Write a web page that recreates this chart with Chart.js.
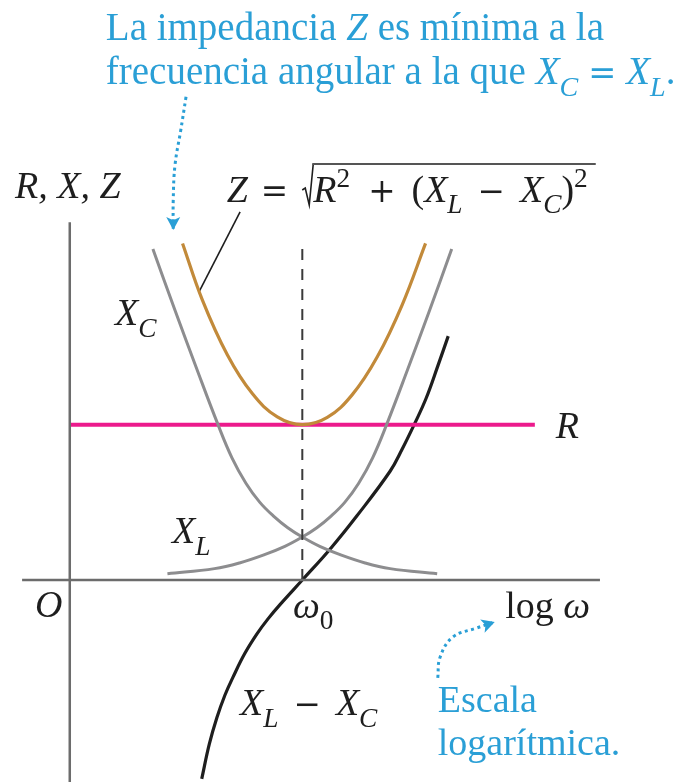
<!DOCTYPE html>
<html>
<head>
<meta charset="utf-8">
<script src="https://cdn.jsdelivr.net/npm/chart.js@4.4.1/dist/chart.umd.min.js"></script>
<style>
  html, body { margin: 0; padding: 0; background: #fff; }
  #wrap { width: 686px; height: 782px; }
</style>
</head>
<body>
<div id="wrap"><canvas id="chart"></canvas></div>
<script>
// eje horizontal: log ω (unidades arbitrarias), ω0 en 4; eje vertical: R, X, Z con R = 3
const omega0 = 4;
const resistance = 3;

// X_C (capacitiva)
const xcLogW = [1.43, 1.81, 2.19, 2.55, 2.79, 3.03, 3.27, 3.51, 3.75, 4.00, 4.30, 4.65, 5.08, 5.51, 6.32];
const xcVals = [6.39, 5.21, 4.06, 3.00, 2.36, 1.87, 1.50, 1.23, 1.01, 0.83, 0.65, 0.49, 0.33, 0.22, 0.12];
// X_L (inductiva)
const xlLogW = [1.68, 2.49, 2.92, 3.35, 3.70, 4.00, 4.25, 4.49, 4.73, 4.97, 5.21, 5.45, 5.81, 6.19, 6.57];
const xlVals = [0.12, 0.22, 0.33, 0.49, 0.65, 0.83, 1.01, 1.23, 1.50, 1.87, 2.36, 3.00, 4.06, 5.21, 6.39];
// Z = sqrt(R^2 + (XL - XC)^2)
const zLogW = [1.94, 2.28, 2.71, 3.14, 3.57, 4.00, 4.43, 4.86, 5.29, 5.72, 6.12];
const zVals = [6.50, 5.41, 4.35, 3.60, 3.15, 3.00, 3.14, 3.58, 4.31, 5.32, 6.50];
// XL - XC
const diffLogW = [2.27, 2.40, 2.53, 2.67, 2.81, 3.01, 3.22, 3.41, 3.62, 4.00, 4.48, 4.94, 5.51, 5.71, 5.92, 6.13, 6.33, 6.51];
const diffVals = [-3.84, -3.17, -2.66, -2.22, -1.87, -1.42, -1.04, -0.75, -0.47, 0.00, 0.60, 1.24, 2.10, 2.51, 2.99, 3.51, 4.13, 4.71];
// recta R y guia en ω0
const rLogW = [0, 8];
const omega0Top = 6.43;

// ejes
const xAxisSpan = [-0.82, 9.12];
const yAxisSpan = [-3.9, 6.91];

// flechas punteadas de las notas
const noteArrowTop = { x: [2.0, 1.91, 1.81, 1.78, 1.78], y: [9.33, 8.69, 8.01, 7.34, 6.76] };
const noteArrowLog = { x: [6.33, 6.37, 6.59, 6.99, 7.31], y: [-1.89, -1.49, -1.10, -0.93, -0.81] };
// linea de llamada de la formula de Z
const leaderX = [2.93, 2.23];
const leaderY = [7.11, 5.58];

const blue = '#2a9fd6';
const ink = '#1e1e1e';

const pts = (xs, ys) => xs.map((x, i) => ({ x, y: ys[i] }));
const line = (xs, ys, color, width, extra) => Object.assign({
  data: pts(xs, ys),
  showLine: true,
  borderColor: color,
  backgroundColor: color,
  borderWidth: width,
  pointRadius: 0,
  fill: false,
}, extra || {});

const smooth = { tension: 0.4 };

const datasets = [
  line([0, 0], yAxisSpan, '#6c6c6c', 2.5),
  line(xAxisSpan, [0, 0], '#6c6c6c', 2.5),
  line([omega0, omega0], [0, omega0Top], '#3a3a3a', 2, { borderDash: [11, 9] }),
  line(xcLogW, xcVals, '#8d8d8f', 3, smooth),
  line(xlLogW, xlVals, '#8d8d8f', 3, smooth),
  line(zLogW, zVals, '#c28a3a', 3.2, smooth),
  line(rLogW, [resistance, resistance], '#ec1a8c', 4),
  line(diffLogW, diffVals, ink, 3.2, smooth),
  line(leaderX, leaderY, ink, 1.6),
  line(noteArrowTop.x, noteArrowTop.y, blue, 3, { borderDash: [3, 3.5], tension: 0.4, arrow: true }),
  line(noteArrowLog.x, noteArrowLog.y, blue, 3, { borderDash: [3, 3.5], tension: 0.4, arrow: true }),
];

// punta de flecha al final de los datasets marcados con arrow
const arrowHeads = {
  id: 'arrowHeads',
  afterDatasetsDraw(chart) {
    const ctx = chart.ctx;
    chart.data.datasets.forEach((ds, i) => {
      if (!ds.arrow) return;
      const els = chart.getDatasetMeta(i).data;
      const a = els[els.length - 2], b = els[els.length - 1];
      const ang = Math.atan2(b.y - a.y, b.x - a.x);
      const len = 13, half = 7;
      ctx.save();
      ctx.translate(b.x, b.y);
      ctx.rotate(ang);
      ctx.beginPath();
      ctx.moveTo(0, 0);
      ctx.lineTo(-len, -half);
      ctx.lineTo(-len * 0.75, 0);
      ctx.lineTo(-len, half);
      ctx.closePath();
      ctx.fillStyle = ds.borderColor;
      ctx.fill();
      ctx.restore();
    });
  }
};

// texto con subindices / superindices
const SERIF = '"Liberation Serif", "Times New Roman", serif';
const OPS = '"DejaVu Serif", serif';
function drawRich(ctx, parts, x, y, size, color) {
  let cx = x;
  ctx.fillStyle = color;
  ctx.textBaseline = 'alphabetic';
  ctx.textAlign = 'left';
  parts.forEach(p => {
    if (typeof p === 'string') p = { t: p };
    const fs = p.s ? size * 0.72 : (p.op ? size * 0.86 : size);
    ctx.font = `${p.i ? 'italic ' : ''}${fs}px ${p.op ? OPS : SERIF}`;
    const dy = p.s === 'sub' ? size * 0.3 : p.s === 'sup' ? -size * 0.4 : 0;
    cx += p.gap || 0;
    ctx.fillText(p.t, cx, y + dy);
    cx += ctx.measureText(p.t).width + (p.after || 0);
  });
  return cx;
}

const FS = 38;
const labels = [
  { x: 0.62, y: 10.43, size: 39, color: blue, parts: ['La impedancia ', { t: 'Z', i: true }, ' es mínima a la'] },
  { x: 0.62, y: 9.58, size: 39, color: blue, parts: ['frecuencia angular a la que ', { t: 'X', i: true }, { t: 'C', i: true, s: 'sub' },
      { t: '=', op: true, gap: 10, after: 10 }, { t: 'X', i: true }, { t: 'L', i: true, s: 'sub' }, '.'] },
  { x: -0.94, y: 7.38, color: ink, parts: [{ t: 'R, X, Z', i: true }] },
  { x: 0.78, y: 4.92, color: ink, parts: [{ t: 'X', i: true }, { t: 'C', i: true, s: 'sub' }] },
  { x: 1.76, y: 0.71, color: ink, parts: [{ t: 'X', i: true }, { t: 'L', i: true, s: 'sub' }] },
  { x: -0.60, y: -0.71, color: ink, parts: [{ t: 'O', i: true }] },
  { x: 3.84, y: -0.73, color: ink, parts: [{ t: 'ω', i: true }, { t: '0', s: 'sub' }] },
  { x: 7.49, y: -0.73, color: ink, parts: ['log ', { t: 'ω', i: true }] },
  { x: 8.36, y: 2.74, color: ink, parts: [{ t: 'R', i: true }] },
  { x: 2.93, y: -2.61, color: ink, parts: [{ t: 'X', i: true }, { t: 'L', i: true, s: 'sub' },
      { t: '−', op: true, gap: 15, after: 15 }, { t: 'X', i: true }, { t: 'C', i: true, s: 'sub' }] },
  { x: 6.33, y: -2.55, color: blue, parts: ['Escala'] },
  { x: 6.33, y: -3.38, color: blue, parts: ['logarítmica.'] },
];

const textLayer = {
  id: 'textLayer',
  afterDraw(chart) {
    const ctx = chart.ctx;
    const sx = chart.scales.x, sy = chart.scales.y;
    ctx.save();
    labels.forEach(l => drawRich(ctx, l.parts, sx.getPixelForValue(l.x), sy.getPixelForValue(l.y), l.size || FS, l.color));

    // Z = raiz(R^2 + (XL - XC)^2)
    const fx = sx.getPixelForValue(2.70), fy = sy.getPixelForValue(7.30);
    let cx = drawRich(ctx, [{ t: 'Z', i: true }, { t: '=', op: true, gap: 13, after: 12 }], fx, fy, FS, ink);
    const r0 = cx + 2;
    ctx.strokeStyle = ink;
    ctx.lineWidth = 1.6;
    ctx.beginPath();
    ctx.moveTo(r0, fy - 12);
    ctx.lineTo(r0 + 3, fy - 14);
    ctx.lineTo(r0 + 7, fy + 3);
    ctx.lineTo(r0 + 11, fy - 38);
    ctx.stroke();
    cx = drawRich(ctx, [{ t: 'R', i: true, gap: 0 }, { t: '2', s: 'sup' }, { t: '+', op: true, gap: 18, after: 16 }, '(',
      { t: 'X', i: true }, { t: 'L', i: true, s: 'sub' }, { t: '−', op: true, gap: 15, after: 15 },
      { t: 'X', i: true }, { t: 'C', i: true, s: 'sub' }, ')', { t: '2', s: 'sup' }], r0 + 11, fy, FS, ink);
    ctx.strokeStyle = '#555';
    ctx.lineWidth = 2;
    ctx.beginPath();
    ctx.moveTo(r0 + 10, fy - 38);
    ctx.lineTo(cx + 8, fy - 38);
    ctx.stroke();
    ctx.restore();
  }
};

new Chart(document.getElementById('chart'), {
  type: 'scatter',
  data: { datasets },
  options: {
    responsive: true,
    maintainAspectRatio: false,
    animation: false,
    layout: { padding: 0 },
    plugins: { legend: { display: false }, tooltip: { enabled: false } },
    scales: {
      x: { type: 'linear', min: -1.2, max: 10.6, display: false },
      y: { type: 'linear', min: -3.9, max: 11.2, display: false },
    },
  },
  plugins: [arrowHeads, textLayer],
});
</script>
</body>
</html>
